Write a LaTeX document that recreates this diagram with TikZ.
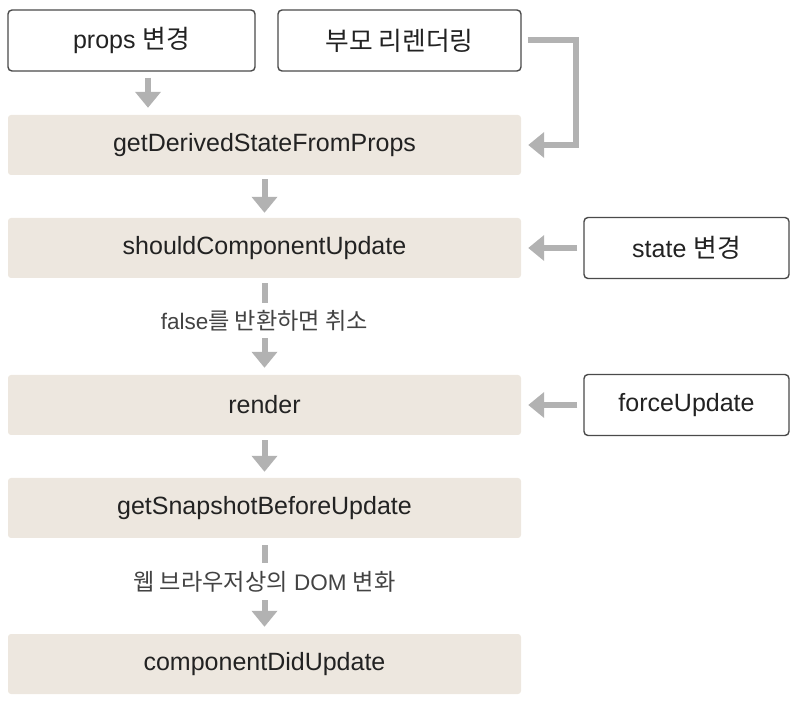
\documentclass[tikz,border=0pt]{standalone}
\usepackage{fontspec}
\setmainfont{Liberation Sans}
\newfontfamily\kr[Scale=1.03]{Noto Sans CJK KR}
\usetikzlibrary{arrows.meta}
\definecolor{barfill}{HTML}{EDE7DF}
\definecolor{arrgray}{HTML}{B2B2B2}
\definecolor{txt}{HTML}{222222}
\definecolor{bordergray}{HTML}{4A4A4A}
\tikzset{
  stepbar/.style={fill=barfill, draw=none, rounded corners=3pt, minimum width=513pt, minimum height=60pt, inner sep=0pt, text=txt, font=\fontsize{25}{28}\selectfont},
  evbox/.style={draw=bordergray, line width=1.4pt, fill=white, rounded corners=4pt, minimum height=61pt, inner sep=0pt, text=txt, font=\fontsize{25}{28}\selectfont},
  lbl/.style={inner sep=0pt, text=txt!85, font=\fontsize{22.5}{25}\selectfont},
  conn/.style={draw=arrgray, line width=6pt},
  arr/.style={conn, -{Triangle[width=25pt,length=16pt]}},
}
\begin{document}
\begin{tikzpicture}[x=1pt,y=-1pt]
\useasboundingbox (0,0) rectangle (804,708);
% event boxes
\node[evbox, minimum width=247pt] (props) at (131.5,40.5) {props {\kr 변경}};
\node[evbox, minimum width=243pt] (bumo) at (399.5,40.5) {{\kr 부모 리렌더링}};
\node[evbox, minimum width=205pt] (state) at (686.5,248) {state {\kr 변경}};
\node[evbox, minimum width=205pt] (force) at (686.5,405) {forceUpdate};
% lifecycle bars
\node[stepbar] (gdsfp) at (264.5,145) {getDerivedStateFromProps};
\node[stepbar] (scu) at (264.5,248) {shouldComponentUpdate};
\node[stepbar] (render) at (264.5,405) {render};
\node[stepbar] (gsbu) at (264.5,508) {getSnapshotBeforeUpdate};
\node[stepbar] (cdu) at (264.5,664) {componentDidUpdate};
% labels between bars
\node[lbl, minimum height=35pt] (lbl1) at (264.5,320.5) {false{\kr 를 반환하면 취소}};
\node[lbl, minimum height=37pt] (lbl2) at (264.5,581.5) {{\kr 웹 브라우저상의} DOM {\kr 변화}};
\coordinate (elb) at (576,0);
% connectors
\draw[arr] ([xshift=16.5pt,yshift=-6pt]props.south) -- ([xshift=16.5pt,yshift=7pt]props.south |- gdsfp.north);
\draw[arr] ([xshift=6pt]bumo.east) -| (elb |- gdsfp.east) -- ([xshift=7pt]gdsfp.east);
\draw[arr] ([yshift=-4pt]gdsfp.south) -- ([yshift=5pt]scu.north);
\draw[arr] ([xshift=-6pt]state.west) -- ([xshift=7pt]scu.east);
\draw[conn] ([yshift=-5pt]scu.south) -- (lbl1.north);
\draw[arr] (lbl1.south) -- ([yshift=7pt]render.north);
\draw[arr] ([xshift=-6pt]force.west) -- ([xshift=7pt]render.east);
\draw[arr] ([yshift=-5pt]render.south) -- ([yshift=6pt]gsbu.north);
\draw[conn] ([yshift=-7pt]gsbu.south) -- (lbl2.north);
\draw[arr] (lbl2.south) -- ([yshift=7pt]cdu.north);
\end{tikzpicture}
\end{document}
